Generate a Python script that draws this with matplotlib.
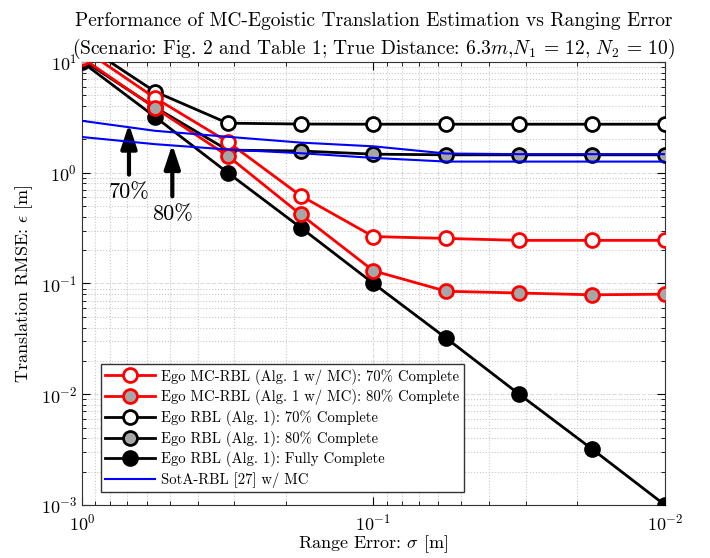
import numpy as np
import matplotlib.pyplot as plt

plt.rcParams['font.family'] = ['cmr10', 'DejaVu Serif']
plt.rcParams['mathtext.fontset'] = 'cm'
plt.rcParams['axes.formatter.use_mathtext'] = True
plt.rcParams['axes.unicode_minus'] = False

# Range error values (m)
sigma = [1.0, 0.5623, 0.3162, 0.1778, 0.1, 0.05623, 0.03162, 0.01778, 0.01]

# RMSE values (m)
mc_70 = [13.3, 4.74, 1.90, 0.62, 0.265, 0.255, 0.245, 0.245, 0.245]
mc_80 = [10.9, 3.85, 1.42, 0.42, 0.13, 0.085, 0.082, 0.079, 0.080]
rbl_70 = [14.7, 5.4, 2.80, 2.75, 2.74, 2.74, 2.74, 2.74, 2.74]
rbl_80 = [10.5, 3.9, 1.60, 1.57, 1.47, 1.45, 1.45, 1.45, 1.45]
rbl_full = [10.0, 3.2, 1.0, 0.32, 0.1, 0.032, 0.01, 0.0032, 0.001]
sota_70 = [2.94, 2.39, 2.11, 1.87, 1.73, 1.49, 1.47, 1.47, 1.47]
sota_80 = [2.10, 1.81, 1.62, 1.50, 1.36, 1.26, 1.26, 1.26, 1.26]

fig = plt.figure(figsize=(7.1, 5.58), dpi=100)
ax = fig.add_axes([0.1155, 0.095, 0.821, 0.794])

mk = dict(marker='o', markersize=10, markeredgewidth=2, linewidth=2)
ax.plot(sigma, mc_70, color='red', markerfacecolor='white', markeredgecolor='red',
        label='Ego MC-RBL (Alg. 1 w/ MC): 70% Complete', zorder=5, **mk)
ax.plot(sigma, mc_80, color='red', markerfacecolor='#a6a6a6', markeredgecolor='red',
        label='Ego MC-RBL (Alg. 1 w/ MC): 80% Complete', zorder=5, **mk)
ax.plot(sigma, rbl_70, color='black', markerfacecolor='white', markeredgecolor='black',
        label='Ego RBL (Alg. 1): 70% Complete', zorder=4, **mk)
ax.plot(sigma, rbl_80, color='black', markerfacecolor='#a6a6a6', markeredgecolor='black',
        label='Ego RBL (Alg. 1): 80% Complete', zorder=4, **mk)
ax.plot(sigma, rbl_full, color='black', markerfacecolor='black', markeredgecolor='black',
        label='Ego RBL (Alg. 1): Fully Complete', zorder=4, **mk)
ax.plot(sigma, sota_70, color='blue', linewidth=1.5, label='SotA-RBL [27] w/ MC', zorder=6)
ax.plot(sigma, sota_80, color='blue', linewidth=1.5, zorder=6)

ax.set_xscale('log')
ax.set_yscale('log')
ax.set_xlim(1, 0.01)
ax.set_ylim(1e-3, 10)

ax.grid(True, which='minor', linestyle=':', color='#c8c8c8', linewidth=0.8)
ax.grid(True, which='major', linestyle='--', color='#dcdcdc', linewidth=0.8)
ax.tick_params(which='both', direction='in', top=True, right=True, labelsize=13)
ax.tick_params(which='major', length=6)
ax.tick_params(which='minor', length=3)
ax.tick_params(axis='x', pad=5.5)
for s in ax.spines.values():
    s.set_color('#333333')

# arrows marking the SotA curves
arrow = dict(arrowstyle='-|>,head_width=0.3,head_length=0.9',
             color='black', lw=3, shrinkB=0, shrinkA=4)
ax.annotate('70%', xy=(0.69, 2.75), xytext=(0.69, 0.66), fontsize=16,
            ha='center', va='center', arrowprops=arrow)
ax.annotate('80%', xy=(0.49, 1.8), xytext=(0.49, 0.42), fontsize=16,
            ha='center', va='center', arrowprops=arrow)

ax.set_title('Performance of MC-Egoistic Translation Estimation vs Ranging Error\n'
             '(Scenario: Fig. 2 and Table 1; True Distance: $6.3m$,$N_1$ = 12, $N_2$ = 10)',
             fontsize=14, pad=6, linespacing=1.4)
ax.set_xlabel(r'Range Error: $\sigma$ [m]', fontsize=13, labelpad=0)
ax.set_ylabel(r'Translation RMSE: $\epsilon$ [m]', fontsize=13)

leg = ax.legend(loc='lower left', bbox_to_anchor=(0.02, 0.012), fontsize=10.6,
                fancybox=False, edgecolor='#333333', framealpha=1,
                handlelength=3.4, labelspacing=0.32, borderpad=0.3, handletextpad=0.4)
leg.get_frame().set_linewidth(1.0)

fig.savefig('out.png', dpi=100)
